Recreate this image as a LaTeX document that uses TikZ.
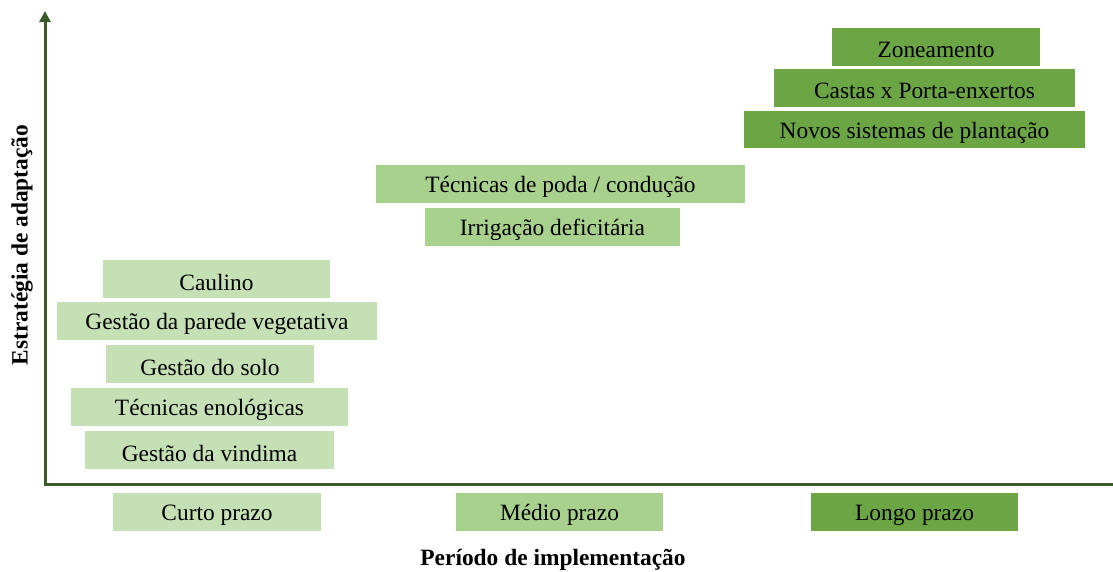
\documentclass[tikz,border=0pt]{standalone}
\usepackage{fontspec}
\setmainfont{Liberation Serif}
\usetikzlibrary{arrows.meta}
\definecolor{lightg}{HTML}{C5E0B4}
\definecolor{midg}{HTML}{A9D18E}
\definecolor{darkg}{HTML}{6BA544}
\definecolor{axisg}{HTML}{3B5A28}
\tikzset{
  boxlbl/.style={font=\fontsize{23.4}{27}\selectfont, text=black, inner sep=0pt},
  axlbl/.style={font=\fontsize{23.4}{27}\selectfont\bfseries, text=black, inner sep=0pt},
  axisline/.style={draw=axisg, line width=3pt},
}
\newcommand{\gbox}[7]{% name, color, x1,y1,x2,y2, text
  \fill[#2] (#3,#4) rectangle (#5,#6);
  \node[boxlbl] (#1) at ({(#3+#5)/2},{(#4+#6)/2+3}) {#7};
}
\begin{document}
\begin{tikzpicture}[x=1pt,y=-1pt]
\useasboundingbox (0,0) rectangle (1113,571);
% axes
\coordinate (origin) at (45,484);
\coordinate (ytop) at (45,11);
\coordinate (xend) at (1113,484);
\draw[axisline, -{Triangle[width=11pt,length=11pt]}] (origin) -- (ytop);
\draw[axisline] ([xshift=-1.5pt]origin) -- (xend);
% long term
\gbox{zon}{darkg}{832}{28}{1040}{66}{Zoneamento}
\gbox{cas}{darkg}{774}{69}{1075}{107}{Castas x Porta-enxertos}
\gbox{nov}{darkg}{744}{111}{1085}{148}{Novos sistemas de plantação}
% medium term
\gbox{pod}{midg}{376}{165}{745}{203}{Técnicas de poda / condução}
\gbox{irr}{midg}{425}{208}{680}{246}{Irrigação deficitária}
% short term
\gbox{cau}{lightg}{103}{260}{330}{298}{Caulino}
\gbox{par}{lightg}{57}{302}{377}{340}{Gestão da parede vegetativa}
\gbox{sol}{lightg}{106}{345}{314}{383}{Gestão do solo}
\gbox{eno}{lightg}{71}{388}{348}{426}{Técnicas enológicas}
\gbox{vin}{lightg}{85}{431}{334}{469}{Gestão da vindima}
% period labels
\gbox{curto}{lightg}{113}{493}{321}{531}{Curto prazo}
\gbox{medio}{midg}{456}{493}{663}{531}{Médio prazo}
\gbox{longo}{darkg}{811}{493}{1018}{531}{Longo prazo}
% axis titles
\node[axlbl] (xt) at (553,560) {Período de implementação};
\node[axlbl, rotate=90] (yt) at (22,245) {Estratégia de adaptação};
\end{tikzpicture}
\end{document}
